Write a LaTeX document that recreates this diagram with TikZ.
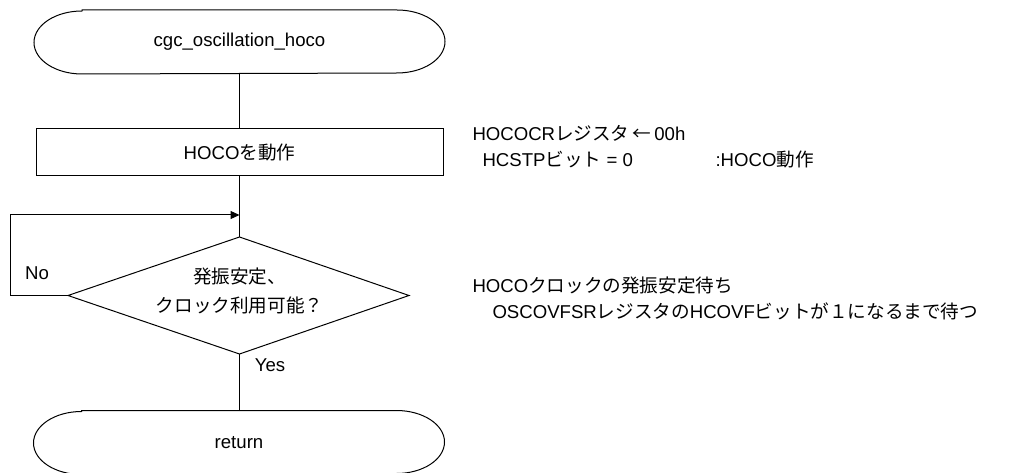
\documentclass[tikz,border=0pt]{standalone}
\usepackage{fontspec}
\setmainfont{Liberation Sans}
\newfontfamily\jpfont{Noto Sans CJK JP}
\newcommand\J[1]{{\jpfont #1}}
\usetikzlibrary{arrows.meta}
\newcommand\termpath[1]{\draw ([xshift=48pt]#1.north west) -- ([xshift=-48pt]#1.north east)
  arc[start angle=90,end angle=-90,x radius=48pt,y radius=31.5pt]
  -- ([xshift=48pt]#1.south west)
  arc[start angle=270,end angle=90,x radius=48pt,y radius=31.5pt] -- cycle;}
\begin{document}
\begin{tikzpicture}[x=1pt,y=-1pt,line width=1pt,
  font=\fontsize{18.6}{22}\selectfont,
  term/.style={rectangle,minimum width=410pt,minimum height=63pt,inner sep=0pt},
  proc/.style={draw,rectangle,minimum width=407pt,minimum height=47pt,inner sep=0pt},
  txt/.style={inner sep=0pt,text height=13pt,text depth=3pt},
  ann/.style={txt,anchor=west},
  arr/.style={-{Triangle[length=9pt,width=8pt]}}]
\useasboundingbox (0,0) rectangle (1009,473);
\clip (0,0) rectangle (1009,473);
% start terminator
\node[term] (start) at (239.5,42) {cgc\_oscillation\_hoco};
\termpath{start}
% process
\node[proc] (act) at (239.5,152.5) {HOCO\J{を動作}};
% decision
\coordinate (dt) at (239.5,237);
\coordinate (dr) at (409,295.5);
\coordinate (db) at (239.5,354);
\coordinate (dl) at (68,295.5);
\draw (dt) -- (dr) -- (db) -- (dl) -- cycle;
\node[inner sep=0pt,align=center,font=\fontsize{18.6}{29}\selectfont] (dec) at (239.5,291) {\J{発振安定、}\\\J{クロック利用可能？}};
% return terminator
\node[term] (ret) at (239,442.5) {return};
\termpath{ret}
% connectors
\draw (start.south) -- (start.south |- act.north);
\draw (act.south) -- (dt);
\coordinate (lp) at (10,215);
\draw[arr] (dl) -- (dl -| lp) -- (lp) -- (lp -| dt);
\draw (db) -- (db |- ret.north);
% labels
\node[txt] (no) at (37,274) {No};
\node[txt] (yes) at (270,366) {Yes};
% annotations
\node[ann] (a1) at (472,136) {HOCOCR\J{レジスタ}\,\J{←}\,00h};
\node[ann] (a2) at (482,162) {HCSTP\J{ビット} = 0};
\node[ann] (a3) at (715,162) {:HOCO\J{動作}};
\node[ann] (a4) at (472,287) {HOCO\J{クロックの発振安定待ち}};
\node[ann] (a5) at (492,313) {OSCOVFSR\J{レジスタの}HCOVF\J{ビットが１になるまで待つ}};
\end{tikzpicture}
\end{document}
